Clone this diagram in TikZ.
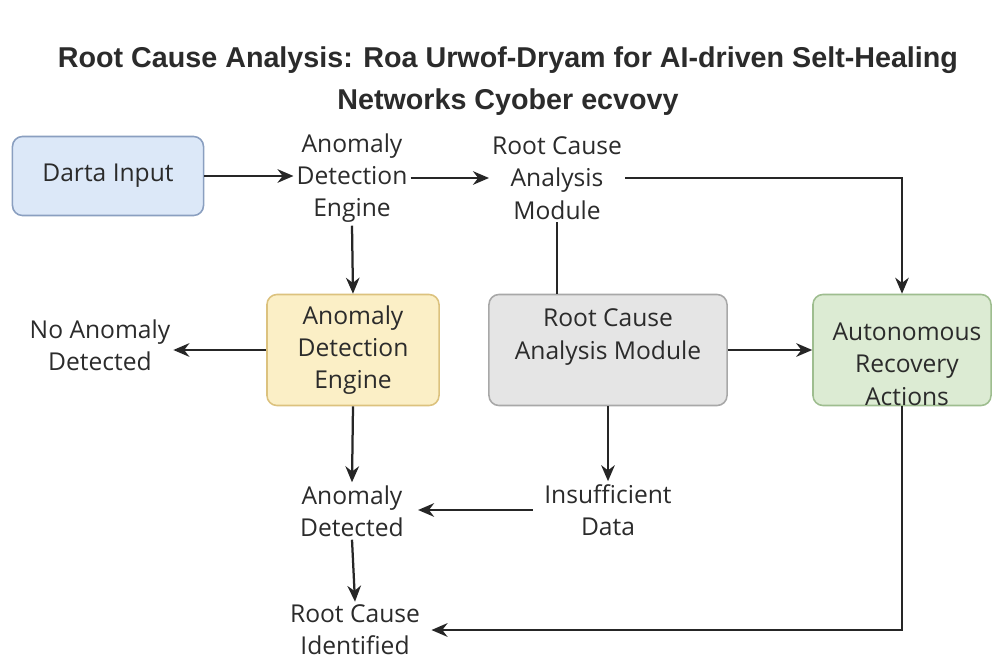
\documentclass[tikz,border=0pt]{standalone}
\usepackage{fontspec}
\setmainfont{Open Sans}
\newfontfamily\titlefont{Liberation Sans}
\usetikzlibrary{arrows.meta}

\definecolor{inkgray}{HTML}{2B2B2B}
\definecolor{linegray}{HTML}{262626}
\definecolor{bluefill}{HTML}{DCE8F8}
\definecolor{blueline}{HTML}{8A9FC0}
\definecolor{yellowfill}{HTML}{FBEFC6}
\definecolor{yellowline}{HTML}{DCC27E}
\definecolor{grayfill}{HTML}{E5E5E5}
\definecolor{grayline}{HTML}{A8A8A8}
\definecolor{greenfill}{HTML}{DCEBD3}
\definecolor{greenline}{HTML}{9EBD8F}

\begin{document}
\begin{tikzpicture}[x=0.025cm,y=-0.025cm,>={Stealth[length=0.4cm,width=0.34cm]},
    txt/.style={align=center,text=inkgray,inner sep=2pt,
      font=\fontsize{17.5}{23}\selectfont},
    box/.style={draw,rounded corners=0.25cm,line width=1.1pt},
    arr/.style={->,line width=1.6pt,draw=linegray},
    plain/.style={line width=1.6pt,draw=linegray}]

        % ============================================
        % PAGE AND TITLE
        % ============================================

        \useasboundingbox (0,0) rectangle (993,662);
        \fill[white] (0,0) rectangle (993,662);

        \node[align=center,text=inkgray,
              font=\titlefont\bfseries\fontsize{20.4}{30}\selectfont] (title) at (508,81)
              {Root Cause Analysis: Roa Urwof-Dryam for AI-driven Selt-Healing\\
               Networks Cyober ecvovy};

        % ============================================
        % TOP ROW
        % ============================================

        \node[box,txt,fill=bluefill,draw=blueline,minimum width=4.775cm,
              minimum height=1.975cm] (datain) at (108,176) {Darta Input};
        \node[txt] (adetop) at (352,178) {Anomaly\\Detection\\Engine};
        \node[txt] (rcatop) at (557,178) {Root Cause\\Analysis\\Module};

        % ============================================
        % MIDDLE ROW
        % ============================================

        \node[box,txt,fill=yellowfill,draw=yellowline,minimum width=4.3cm,
              minimum height=2.775cm] (adebox) at (353,350) {Anomaly\\Detection\\Engine};
        \node[txt] (noanom) at (100,345) {No Anomaly\\Detected};

        \node[box,fill=grayfill,draw=grayline,minimum width=5.95cm,
              minimum height=2.775cm] (rcabox) at (608,350) {};
        \node[txt] (rcatext) at (608,337) {Root Cause\\Analysis Module};

        \node[box,fill=greenfill,draw=greenline,minimum width=4.45cm,
              minimum height=2.775cm] (recbox) at (902,350) {};
        \node[txt] (rectext) at (907,364) {Autonomous\\Recovery\\Actions};

        % ============================================
        % BOTTOM ROWS
        % ============================================

        \node[txt] (anomdet) at (352,511) {Anomaly\\Detected};
        \node[txt] (insuff) at (608,510) {Insufficient\\Data};
        \node[txt] (rootid) at (355,630) {Root Cause\\Identified};

        % ============================================
        % Connectors
        % ============================================

        \draw[arr] (datain.east) -- (datain.east -| adetop.west);
        \draw[arr] (adetop.east) -- (adetop.east -| rcatop.west);
        \draw[arr] (rcatop.east) -| (recbox.north);
        \draw[arr] (adetop.south) -- (adebox.north);
        \draw[plain] (rcatop.south) -- (rcatop.south |- rcabox.north);
        \draw[arr] (adebox.west) -- (adebox.west -| noanom.east);
        \draw[arr] (rcabox.east) -- (recbox.west);
        \draw[arr] (adebox.south) -- (anomdet.north);
        \draw[arr] (rcabox.south) -- (insuff.north);
        \draw[arr,shorten <=6pt,shorten >=8pt] (insuff.west) -- (insuff.west -| anomdet.east);
        \draw[arr] (anomdet.south) -- (rootid.north);
        \draw[arr,shorten >=6pt] (recbox.south) |- (rootid.east);

\end{tikzpicture}
\end{document}
